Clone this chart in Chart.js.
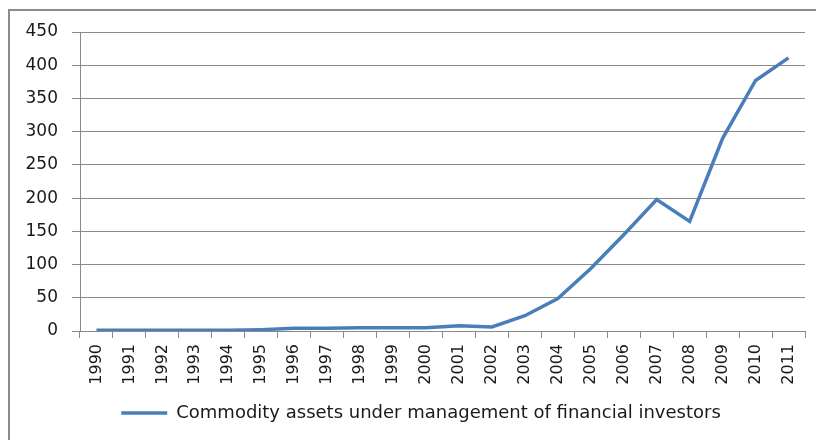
<!DOCTYPE html>
<html>
<head>
<meta charset="utf-8">
<script src="https://cdn.jsdelivr.net/npm/chart.js@4/dist/chart.umd.min.js"></script>
<style>
  html, body { margin: 0; padding: 0; background: #fff; overflow: hidden; }
  #frame { position: absolute; left: 8px; top: 9px; width: 900px; height: 500px; border: 2px solid #8c8c8c; }
  #wrap { position: absolute; left: 0; top: 0; width: 842px; height: 440px; }
</style>
</head>
<body>
<div id="frame"></div>
<div id="wrap"><canvas id="c"></canvas></div>
<script>
// Commodity assets under management of financial investors (USD bn)
const years = ['1990', '1991', '1992', '1993', '1994', '1995', '1996', '1997', '1998', '1999', '2000',
  '2001', '2002', '2003', '2004', '2005', '2006', '2007', '2008', '2009', '2010', '2011'];
const assets = [1, 1, 1, 1, 1, 2, 4, 4, 5, 5, 5, 8, 6, 23, 49, 94, 145, 198, 165, 290, 377, 411];
const yTicks = [0, 50, 100, 150, 200, 250, 300, 350, 400, 450];

const LINE = '#4a7ebb';
const GRID = '#8a8a8a';
const TEXT = '#1a1a1a';
const FONT = 'DejaVu Sans';

new Chart(document.getElementById('c'), {
  type: 'line',
  data: {
    labels: years,
    datasets: [{
      label: 'Commodity assets under management of financial investors',
      data: assets,
      borderColor: LINE,
      backgroundColor: LINE,
      borderWidth: 3.5,
      pointRadius: 0,
      tension: 0,
      pointStyle: 'line',
    }],
  },
  options: {
    responsive: true,
    maintainAspectRatio: false,
    animation: false,
    layout: { padding: { top: 32, left: 0, right: 0, bottom: 8 } },
    plugins: {
      tooltip: { enabled: false },
      legend: {
        position: 'bottom',
        labels: {
          usePointStyle: true,
          pointStyleWidth: 46,
          color: TEXT,
          padding: 14,
          font: { family: FONT, size: 18 },
        },
      },
    },
    scales: {
      x: {
        offset: true,
        grid: { display: true, drawOnChartArea: false, drawTicks: true, tickLength: 7, offset: true, color: GRID },
        border: { color: GRID },
        ticks: { color: TEXT, font: { family: FONT, size: 16 }, minRotation: 90, maxRotation: 90, padding: 6, autoSkip: false },
        afterFit: (s) => { s.height = 59; },
      },
      y: {
        min: 0,
        max: 450,
        afterBuildTicks: (s) => { s.ticks = yTicks.map((v) => ({ value: v })); },
        grid: { color: GRID, tickLength: 8 },
        border: { color: GRID },
        ticks: { color: TEXT, font: { family: FONT, size: 17 }, padding: 14 },
        afterFit: (s) => { s.width = 80; },
      },
      // empty spacer on the right so the plot ends where the reference's does
      spacer: {
        type: 'linear',
        position: 'right',
        display: true,
        grid: { display: false },
        border: { display: false },
        ticks: { display: false },
        afterFit: (s) => { s.width = 37; },
      },
    },
  },
});
</script>
</body>
</html>
